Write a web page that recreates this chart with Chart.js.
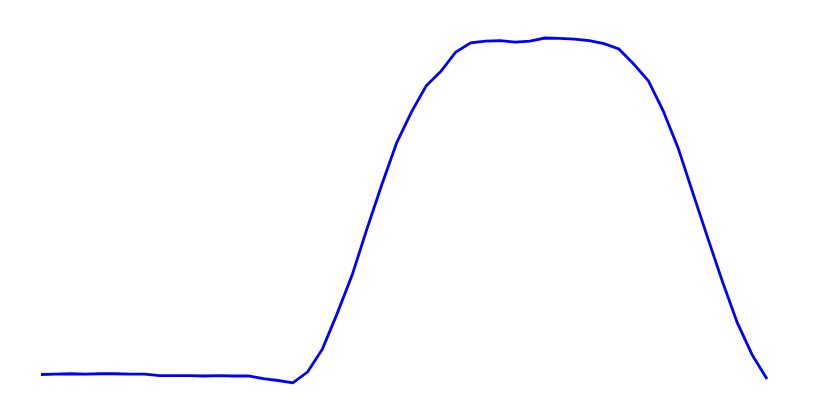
<!DOCTYPE html>
<html>
<head>
    <title>Curve</title>
    <script src="https://cdn.jsdelivr.net/npm/chart.js"></script>
    <style>
        html, body { margin: 0; padding: 0; background: #fff; }
    </style>
</head>
<body>
    <div style="width: 817px; height: 414px;">
        <canvas id="myChart"></canvas>
    </div>
    <script>
        // sample index along the curve
        const samples = [
            1, 2, 3, 4, 5, 6, 7, 8, 9, 10,
            11, 12, 13, 14, 15, 16, 17, 18, 19, 20,
            21, 22, 23, 24, 25, 26, 27, 28, 29, 30,
            31, 32, 33, 34, 35, 36, 37, 38, 39, 40,
            41, 42, 43, 44, 45, 46, 47, 48, 49, 50
        ];

        // values (0-110 range)
        const values = [
            10.5, 10.6, 10.7, 10.6, 10.7, 10.7, 10.6, 10.6, 10.2, 10.2,
            10.2, 10.1, 10.2, 10.1, 10.1, 9.4, 8.9, 8.3, 11.2, 17.3,
            26.8, 36.9, 49.2, 60.9, 72.0, 80.2, 87.2, 91.1, 96.2, 98.6,
            99.1, 99.2, 98.8, 99.1, 99.9, 99.8, 99.6, 99.2, 98.4, 97.0,
            93.0, 88.5, 80.5, 70.7, 58.7, 46.8, 35.1, 24.2, 15.7, 9.3
        ];

        const yMin = 0;
        const yMax = 110;

        const ctx = document.getElementById('myChart').getContext('2d');
        const myChart = new Chart(ctx, {
            type: 'line',
            data: {
                labels: samples,
                datasets: [
                    {
                        data: values,
                        borderColor: 'rgb(0, 0, 255)',
                        borderWidth: 2.8,
                        pointRadius: 0,
                        tension: 0,
                        fill: false,
                    },
                ],
            },
            options: {
                responsive: true,
                maintainAspectRatio: false,
                animation: false,
                layout: {
                    padding: { left: 41, right: 50, top: 0, bottom: 0 },
                },
                plugins: {
                    legend: { display: false },
                    tooltip: { enabled: false },
                },
                scales: {
                    x: { display: false },
                    y: { display: false, min: yMin, max: yMax },
                },
            },
        });
    </script>
</body>
</html>
